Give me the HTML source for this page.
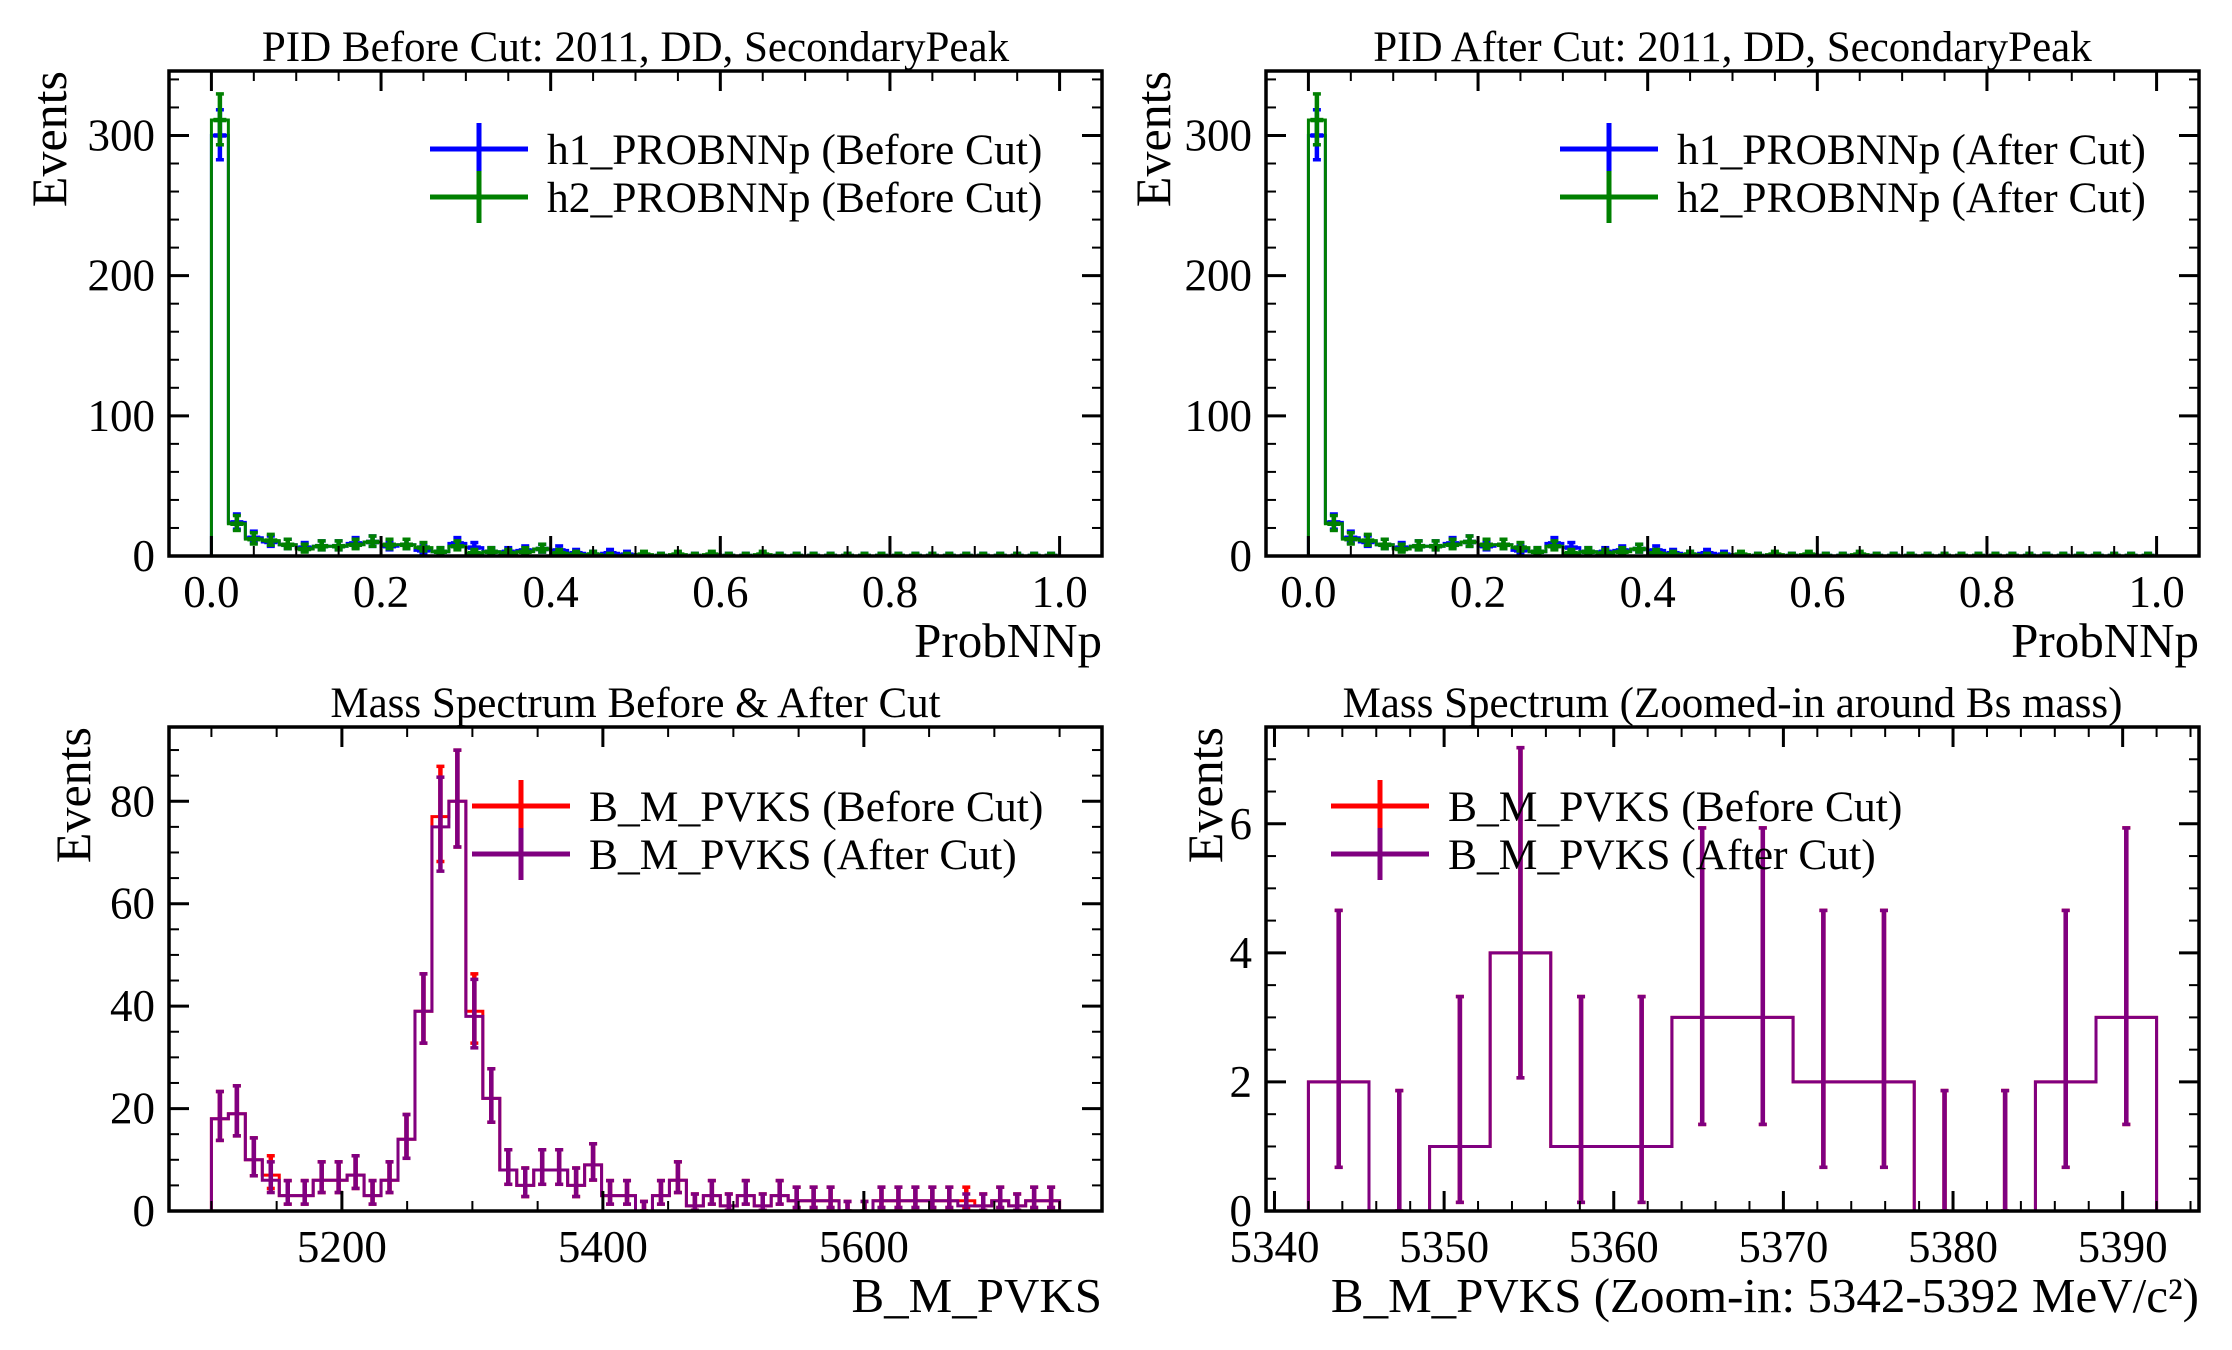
<!DOCTYPE html>
<html><head><meta charset="utf-8"><style>
html,body{margin:0;padding:0;background:#fff;}
svg{display:block;font-family:"Liberation Serif","DejaVu Serif",serif;}
</style></head><body>
<svg id="fig" width="2232" height="1350" viewBox="0 0 2232 1350" xmlns="http://www.w3.org/2000/svg"></svg>
<script>
// ---- data ----
const pidBins = 50;
const h1Before = [300,24,13,10,8,6,7,7,9,10,7,8,4,3,9,6,3,3,4,5,4,2,1,2,1,0,0,0,0,0,0,0,0,0,0,0,0,0,0,0,0,0,0,0,0,0,0,0,0,0];
const h2Before = [311,23,12,11,8,5,7,7,8,10,8,8,6,3,7,2,3,2,3,5,2,1,1,0,0,1,0,1,0,1,0,0,1,0,0,0,0,0,0,0,0,0,0,0,0,0,0,0,0,0];
const h1After = [300,24,13,10,8,6,7,7,9,10,7,8,4,3,9,6,3,3,4,5,4,2,1,2,1,0,0,0,0,0,0,0,0,0,0,0,0,0,0,0,0,0,0,0,0,0,0,0,0,0];
const h2After = [311,23,12,11,8,5,7,7,8,10,8,8,6,3,7,2,3,2,3,5,2,1,1,0,0,1,0,1,0,1,0,0,1,0,0,0,0,0,0,0,0,0,0,0,0,0,0,0,0,0];
const massBefore = [18,19,10,7,3,3,6,6,7,3,6,14,39,77,80,39,22,8,5,8,8,5,9,3,3,0,3,6,1,3,1,3,1,3,2,2,2,0,0,2,2,2,2,2,2,1,2,1,2,2];
const massAfter  = [18,19,10,6,3,3,6,6,7,3,6,14,39,75,80,38,22,8,5,8,8,5,9,3,3,0,3,6,1,3,1,3,1,3,2,2,2,0,0,2,2,2,2,2,1,1,2,1,2,2];
const zoomBefore = [2,0,1,4,1,1,3,3,2,2,0,0,2,3];
const zoomAfter  = [2,0,1,4,1,1,3,3,2,2,0,0,2,3];
const pidTicksX = [0,0.2,0.4,0.6,0.8,1.0];
const pidTickLabelsX = ["0.0","0.2","0.4","0.6","0.8","1.0"];
const pidTicksY = [0,100,200,300];
const massTicksX = [5200,5400,5600];
const massTicksY = [0,20,40,60,80];
const zoomTicksX = [5340,5350,5360,5370,5380,5390];
const zoomTicksY = [0,2,4,6];

const NS="http://www.w3.org/2000/svg";
const svg=document.getElementById('fig');
function mk(tag,attrs,parent){const e=document.createElementNS(NS,tag);for(const k in attrs)e.setAttribute(k,attrs[k]);(parent||svg).appendChild(e);return e;}
function errHi(n){return n+Math.sqrt(n+0.75)+1;}
function errLo(n){return n<=0?0:n-Math.sqrt(n-0.25);}

function panel(cfg){
  const g=mk('g',{});
  
  
  const L=cfg.x0,R=cfg.x1,T=cfg.y0,B=cfg.y1;
  const sx=v=>L+(v-cfg.xmin)/(cfg.xmax-cfg.xmin)*(R-L);
  const sy=v=>B-(v-cfg.ymin)/(cfg.ymax-cfg.ymin)*(B-T);
  const clip=mk('clipPath',{id:cfg.name+'-clip'},g);
  mk('rect',{x:L,y:T,width:R-L,height:B-T},clip);
  const plot=mk('g',{'clip-path':'url(#'+cfg.name+'-clip)'},g);
  cfg.series.forEach(s=>{
    const n=s.values.length, w=(cfg.hmax-cfg.hmin)/n;
    let d='';
    s.values.forEach((v,i)=>{
      const xa=sx(cfg.hmin+i*w), xb=sx(cfg.hmin+(i+1)*w), y=sy(v);
      d+=(i===0?'M'+xa+','+sy(0)+'L'+xa+','+y:'L'+xa+','+y)+'L'+xb+','+y;
      if(i===n-1)d+='L'+xb+','+sy(0);
    });
    const p=mk('path',{d:d,fill:'none',stroke:s.color,'stroke-width':3},plot);
    
    
    const eg=mk('g',{stroke:s.color,'stroke-width':4.5},plot);
    
    
    s.values.forEach((v,i)=>{
      const xc=sx(cfg.hmin+(i+0.5)*w);
      const y1=sy(errHi(v)), y2=sy(errLo(v));
      mk('line',{x1:xc,x2:xc,y1:y1,y2:y2},eg);
      mk('line',{x1:xc-4,x2:xc+4,y1:y1,y2:y1,'stroke-width':3.5},eg);
      mk('line',{x1:xc-4,x2:xc+4,y1:y2,y2:y2,'stroke-width':3.5},eg);
      if(cfg.hbar){const xa=sx(cfg.hmin+i*w)+2,xb=sx(cfg.hmin+(i+1)*w)-2;mk('line',{x1:xa,x2:xb,y1:sy(v),y2:sy(v)},eg);}
    });
  });
  const fr=mk('rect',{x:L,y:T,width:R-L,height:B-T,fill:'none',stroke:'#000','stroke-width':3.5},g);
  
  
  const tg=mk('g',{stroke:'#000'},g);
  const maj=20,mnr=10;
  for(let v=cfg.xminorStart;v<=cfg.xmax+1e-9;v+=cfg.xminor){
    if(v<cfg.xmin)continue;
    const isMaj=cfg.xticks.some(t=>Math.abs(t-v)<1e-6);
    const x=sx(v),len=isMaj?maj:mnr;
    mk('line',{x1:x,x2:x,y1:B,y2:B-len,'stroke-width':isMaj?3:2},tg);
    mk('line',{x1:x,x2:x,y1:T,y2:T+len,'stroke-width':isMaj?3:2},tg);
  }
  for(let v=cfg.ymin;v<=cfg.ymax+1e-9;v+=cfg.yminor){
    const isMaj=cfg.yticks.some(t=>Math.abs(t-v)<1e-6);
    const y=sy(v),len=isMaj?maj:mnr;
    mk('line',{x1:L,x2:L+len,y1:y,y2:y,'stroke-width':isMaj?3:2},tg);
    mk('line',{x1:R,x2:R-len,y1:y,y2:y,'stroke-width':isMaj?3:2},tg);
  }
  cfg.xticks.forEach((v,i)=>{
    const t=mk('text',{x:sx(v),y:B+51,'text-anchor':'middle','font-size':45},g);
    t.textContent=cfg.xlabels?cfg.xlabels[i]:String(v);
    
    
  });
  cfg.yticks.forEach(v=>{
    const t=mk('text',{x:L-14,y:sy(v)+15,'text-anchor':'end','font-size':45},g);
    t.textContent=String(v);
    
    
  });
  const tt=mk('text',{x:(L+R)/2,y:T-10,'text-anchor':'middle','font-size':43},g);
  tt.textContent=cfg.title;
  
  
  const xl=mk('text',{x:R,y:B+101,'text-anchor':'end','font-size':49},g);
  xl.textContent=cfg.xtitle;
  
  
  const yl=mk('text',{x:0,y:0,'text-anchor':'end','font-size':50,transform:'translate('+cfg.ylabX+','+T+') rotate(-90)'},g);
  yl.textContent='Events';
  
  
  cfg.series.forEach((s,i)=>{
    const y=cfg.legY+i*48;
    const lg=mk('g',{},g);
    
    
    mk('line',{x1:cfg.legX,x2:cfg.legX+98,y1:y,y2:y,stroke:s.color,'stroke-width':5},lg);
    mk('line',{x1:cfg.legX+49,x2:cfg.legX+49,y1:y-26,y2:y+26,stroke:s.color,'stroke-width':5},lg);
    const t=mk('text',{x:cfg.legX+117,y:y+15,'font-size':43.5},lg);
    t.textContent=s.label;
  });
}

panel({name:'pid-before-panel',x0:169,x1:1102,y0:71,y1:556,xmin:-0.05,xmax:1.05,ymin:0,ymax:346,hmin:0,hmax:1,
  xticks:pidTicksX,xlabels:pidTickLabelsX,xminor:0.05,xminorStart:0,yticks:pidTicksY,yminor:20,
  title:'PID Before Cut: 2011, DD, SecondaryPeak',xtitle:'ProbNNp',ylabX:66,legX:430,legY:149,
  series:[{name:'h1-before',color:'#0000ff',values:h1Before,label:'h1_PROBNNp (Before Cut)'},
          {name:'h2-before',color:'#008000',values:h2Before,label:'h2_PROBNNp (Before Cut)'}],hbar:true});
panel({name:'pid-after-panel',x0:1266,x1:2199,y0:71,y1:556,xmin:-0.05,xmax:1.05,ymin:0,ymax:346,hmin:0,hmax:1,
  xticks:pidTicksX,xlabels:pidTickLabelsX,xminor:0.05,xminorStart:0,yticks:pidTicksY,yminor:20,
  title:'PID After Cut: 2011, DD, SecondaryPeak',xtitle:'ProbNNp',ylabX:1170,legX:1560,legY:149,
  series:[{name:'h1-after',color:'#0000ff',values:h1After,label:'h1_PROBNNp (After Cut)'},
          {name:'h2-after',color:'#008000',values:h2After,label:'h2_PROBNNp (After Cut)'}],hbar:true});
panel({name:'mass-panel',x0:169,x1:1102,y0:727,y1:1211,xmin:5067.5,xmax:5782.5,ymin:0,ymax:94.5,hmin:5100,hmax:5750,
  xticks:massTicksX,xminor:50,xminorStart:5100,yticks:massTicksY,yminor:5,
  title:'Mass Spectrum Before & After Cut',xtitle:'B_M_PVKS',ylabX:90,legX:472,legY:806,
  series:[{name:'mass-before',color:'#ff0000',values:massBefore,label:'B_M_PVKS (Before Cut)'},
          {name:'mass-after',color:'#800080',values:massAfter,label:'B_M_PVKS (After Cut)'}]});
panel({name:'zoom-panel',x0:1266,x1:2199,y0:727,y1:1211,xmin:5339.5,xmax:5394.5,ymin:0,ymax:7.5,hmin:5342,hmax:5392,
  xticks:zoomTicksX,xminor:2,xminorStart:5340,yticks:zoomTicksY,yminor:0.5,
  title:'Mass Spectrum (Zoomed-in around Bs mass)',xtitle:'B_M_PVKS (Zoom-in: 5342-5392 MeV/c²)',ylabX:1222,legX:1331,legY:806,
  series:[{name:'zoom-before',color:'#ff0000',values:zoomBefore,label:'B_M_PVKS (Before Cut)'},
          {name:'zoom-after',color:'#800080',values:zoomAfter,label:'B_M_PVKS (After Cut)'}]});
</script>
</body></html>
